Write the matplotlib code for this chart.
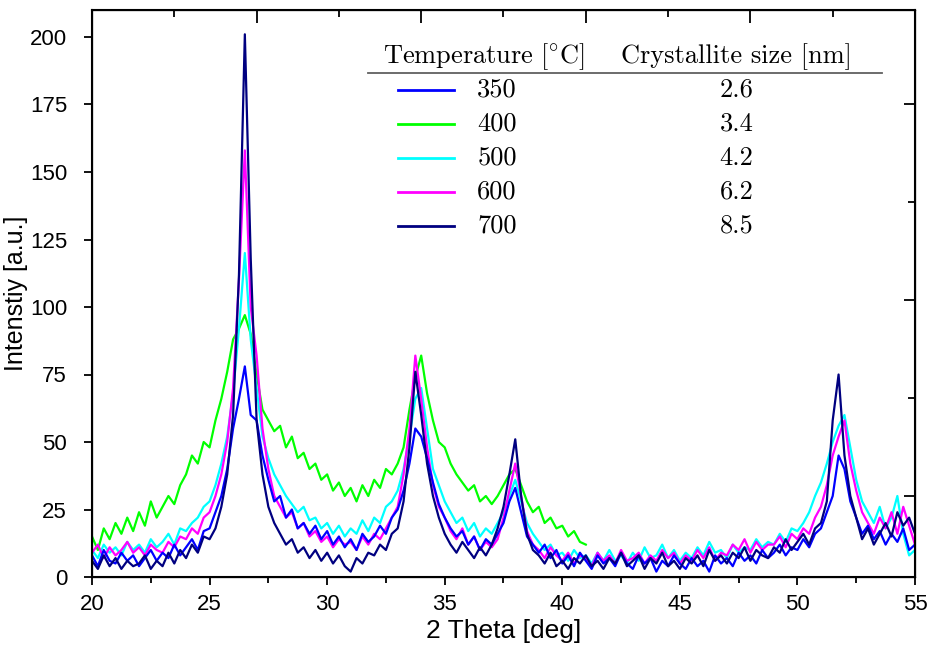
import numpy as np
import matplotlib
matplotlib.use("Agg")
import matplotlib.pyplot as plt
from matplotlib.ticker import FixedLocator

plt.rcParams['font.family'] = ['Liberation Sans', 'DejaVu Sans']
plt.rcParams['mathtext.fontset'] = 'cm'

# 2 theta grid (deg), 0.25 deg steps
two_theta = np.arange(20.0, 55.001, 0.25)
two_theta_400 = two_theta[two_theta <= 41.001]

temperatures = ["350", "400", "500", "600", "700"]
crystallite_nm = ["2.6", "3.4", "4.2", "6.2", "8.5"]
colors = ["#0000ff", "#00ff00", "#00ffff", "#ff00ff", "#000080"]

int_350 = [
    8, 4, 10, 6,   5, 9, 6, 8,   4, 7, 10, 6,   9, 7, 12, 8,   11, 14, 10, 17,
    18, 24, 30, 40,   55, 66, 78, 60,   58, 45, 36, 28,   30, 22, 25, 18,
    20, 16, 19, 14,   17, 12, 15, 11,   14, 10, 16, 13,   15, 19, 16, 22,
    25, 32, 42, 55,   52, 44, 35, 27,   22, 18, 15, 17,   12, 15, 10, 14,
    12, 16, 20, 28,   33, 24, 15, 12,   9, 12, 7, 10,   5, 8, 4, 9,
    6, 3, 8, 5,   7, 4, 9, 5,   3, 8, 5, 7,   2, 6, 4, 8,   5, 3, 7, 4,
    6, 2, 8, 5,   7, 4, 9, 6,   8, 5, 10, 7,   9, 12, 8, 11,   10, 14, 11, 16,
    18, 24, 30, 45,   40, 28, 22, 16,   19, 14, 17, 12,   16, 13, 18, 10,
    12,
]
int_400 = [
    15, 10, 18, 14,   20, 16, 22, 17,   24, 19, 28, 22,   26, 30, 27, 34,
    38, 45, 42, 50,   48, 58, 66, 76,   88, 92, 97, 90,   75, 62, 58, 54,
    56, 48, 52, 44,   46, 40, 42, 36,   38, 32, 35, 30,   33, 28, 34, 30,
    36, 33, 40, 38,   42, 48, 62, 74,   82, 68, 58, 50,   48, 42, 38, 35,
    32, 34, 28, 30,   27, 30, 34, 38,   40, 34, 28, 24,   26, 20, 22, 18,
    19, 15, 17, 13,
    12,
]
int_500 = [
    10, 7, 12, 9,   11, 8, 13, 10,   12, 9, 14, 11,   13, 16, 12, 18,   17, 20, 22, 26,
    28, 34, 42, 52,   68, 92, 120, 88,   70, 52, 44, 38,   34, 30, 27, 24,
    26, 21, 22, 18,   20, 16, 19, 15,   18, 16, 21, 17,   22, 20, 26, 28,
    32, 40, 52, 66,   70, 55, 40, 34,   28, 24, 20, 22,   17, 20, 15, 18,
    16, 20, 24, 30,   36, 28, 20, 16,   13, 10, 12, 8,   9, 6, 10, 7,
    8, 5, 9, 6,   10, 6, 8, 5,   9, 6, 11, 7,   8, 12, 7, 10,   6, 9, 7, 11,
    8, 13, 9, 10,   7, 12, 9, 11,   10, 14, 11, 13,   12, 16, 13, 18,   17, 20, 24, 30,
    35, 42, 50, 56,   60, 48, 36, 28,   24, 20, 26, 18,   22, 30, 16, 8,
    10,
]
int_600 = [
    9, 12, 7, 11,   8, 10, 13, 9,   11, 8, 12, 10,   9, 13, 11, 15,   14, 18, 16, 22,
    24, 30, 38, 50,   70, 110, 158, 100,   82, 55, 40, 30,   26, 22, 24, 18,
    20, 15, 17, 13,   15, 11, 14, 12,   13, 10, 15, 12,   16, 14, 18, 22,
    26, 38, 55, 82,   66, 48, 34, 26,   22, 17, 14, 18,   12, 15, 10, 13,
    11, 14, 22, 32,   42, 30, 17, 12,   10, 7, 11, 8,   6, 9, 5, 8,
    7, 4, 9, 6,   8, 5, 10, 6,   7, 9, 5, 8,   6, 10, 7, 9,   5, 8, 6, 10,
    7, 11, 6, 9,   8, 12, 10, 14,   9, 13, 10, 12,   12, 15, 11, 16,   14, 18, 16, 22,
    26, 34, 45, 52,   58, 42, 32, 24,   20, 16, 22, 18,   24, 16, 26, 19,
    12,
]
int_700 = [
    6, 3, 8, 4,   7, 3, 6, 4,   5, 8, 3, 6,   4, 9, 5, 10,   7, 12, 9, 15,
    14, 18, 26, 38,   60, 112, 201, 118,   58, 38, 26, 20,   16, 12, 14, 9,
    11, 7, 10, 6,   9, 5, 8, 4,   2, 7, 5, 9,   8, 12, 10, 16,
    18, 28, 48, 76,   60, 42, 30, 22,   16, 12, 9, 13,   10, 7, 11, 8,
    12, 18, 26, 38,   51, 30, 16, 10,   8, 5, 9, 4,   6, 3, 7, 5,
    8, 4, 6, 3,   7, 5, 9, 4,   6, 8, 3, 7,   5, 9, 4, 6,   3, 7, 5, 8,
    4, 10, 6, 8,   5, 9, 7, 11,   6, 10, 8, 7,   11, 9, 14, 10,   13, 16, 12, 18,
    20, 28, 58, 75,   45, 30, 22, 14,   18, 12, 16, 20,   15, 24, 19, 22,
    16,
]

fig = plt.figure(figsize=(9.30, 6.49), dpi=100)
ax = fig.add_axes([92 / 930, 72 / 649, 823 / 930, 567 / 649])

series = [
    (two_theta_400, int_400, 1),
    (two_theta, int_500, 2),
    (two_theta, int_600, 3),
    (two_theta, int_350, 0),
    (two_theta, int_700, 4),
]
for x, y, i in series:
    ax.plot(x, y, color=colors[i], lw=1.6)

ax.set_xlim(20, 55)
ax.set_ylim(0, 210)
ax.set_xticks(np.arange(20, 56, 5))
ax.xaxis.set_minor_locator(FixedLocator(np.arange(22.5, 55, 5)))
ax.set_yticks(np.arange(0, 201, 25))
ax.tick_params(axis='both', which='major', direction='out', length=6, width=1.3,
               labelsize=16, top=False, right=False)
ax.tick_params(axis='x', which='major', pad=6)
ax.tick_params(axis='y', which='major', pad=12)
ax.tick_params(axis='x', which='minor', direction='out', length=4, width=1.3)
for s in ax.spines.values():
    s.set_linewidth(1.5)

ax.set_xlabel("2 Theta [deg]", fontsize=19, labelpad=3)
ax.set_ylabel("Intenstiy [a.u.]", fontsize=18)
ax.yaxis.set_label_coords(-0.078, 0.5)

# top and right axes carry their own inward ticks, no labels
ax_top = ax.twiny()
ax_top.set_xlim(0, 10)
ax_top.set_xticks([2, 4, 6, 8])
ax_top.xaxis.set_minor_locator(FixedLocator([1, 3, 5, 7, 9]))
ax_top.tick_params(which='major', direction='in', length=9, width=1.3, labeltop=False)
ax_top.tick_params(which='minor', direction='in', length=5, width=1.3)

ax_right = ax.twinx()
ax_right.set_ylim(0.173, 5.96)
ax_right.set_yticks([1, 3, 5])
ax_right.yaxis.set_minor_locator(FixedLocator([2, 4]))
ax_right.tick_params(which='major', direction='in', length=8, width=1.3, labelright=False)
ax_right.tick_params(which='minor', direction='in', length=5, width=1.3)

# table-like legend
cm_font = dict(fontfamily='cmr10', fontsize=19, transform=ax.transAxes)
ax.text(0.476, 0.918, r'$\mathrm{Temperature\ [^{\circ}C]}$', ha='center', va='center',
        fontsize=19, transform=ax.transAxes)
ax.text(0.783, 0.918, "Crystallite size [nm]", ha='center', va='center', **cm_font)
ax.plot([0.335, 0.960], [0.889, 0.889], color='#606060', lw=1.3, transform=ax.transAxes)
row_y = [0.859, 0.799, 0.739, 0.679, 0.619]
for i, yy in enumerate(row_y):
    ax.plot([0.372, 0.440], [yy, yy], color=colors[i], lw=2, transform=ax.transAxes)
    ax.text(0.468, yy, temperatures[i], ha='left', va='center', **cm_font)
    ax.text(0.783, yy, crystallite_nm[i], ha='center', va='center', **cm_font)

fig.savefig("out.png", dpi=100)
